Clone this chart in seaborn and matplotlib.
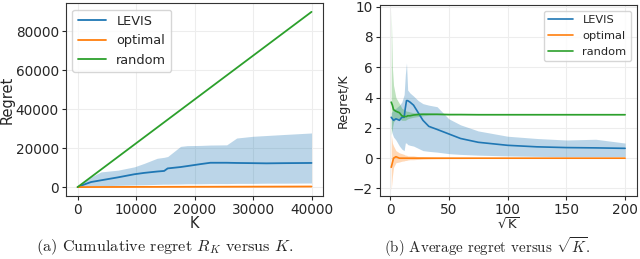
import numpy as np
import pandas as pd
import seaborn as sns
import matplotlib.pyplot as plt

# ---- (a) cumulative regret vs K ----
k_pts = [0, 1000, 2300, 4000, 6900, 9700, 11400, 13600, 14800, 15400, 17600,
         18750, 21000, 22700, 25500, 27200, 30000, 32300, 35200, 40000]
levis_cum = [0, 1200, 2600, 3500, 5000, 6600, 7300, 8000, 8300, 9600, 10300,
             10800, 11800, 12500, 12500, 12400, 12300, 12200, 12300, 12400]
levis_cum_hi = [0, 2500, 5200, 7800, 8700, 10400, 12200, 14800, 15300, 15700, 20900,
                21300, 21400, 21600, 21700, 25200, 26100, 26500, 27000, 27800]
levis_cum_lo = [0, 200, 400, 700, 900, 1100, 1200, 1400, 1500, 1500, 1600,
                1700, 1700, 1800, 1800, 1900, 1900, 2000, 2000, 2100]
optimal_cum = [0, 20, 40, 60, 80, 100, 110, 120, 130, 140, 150,
               160, 170, 180, 200, 210, 230, 240, 260, 300]
random_cum = [0, 2250, 5175, 9000, 15525, 21825, 25650, 30600, 33300, 34650, 39600,
              42190, 47250, 51075, 57375, 61200, 67500, 72675, 79200, 90000]

# ---- (b) average regret vs sqrt(K) ----
sqrt_k = [1, 2, 3, 5, 8, 10, 12, 13, 14, 15, 17, 20, 24, 28, 33, 40, 50, 60,
          75, 100, 125, 150, 175, 200]
levis_avg = [2.7, 2.6, 2.5, 2.6, 2.5, 2.7, 2.7, 3.3, 3.8, 3.8, 3.7, 3.5, 3.0, 2.5,
             2.1, 1.9, 1.6, 1.3, 1.05, 0.85, 0.75, 0.7, 0.68, 0.65]
levis_avg_hi = [3.0, 3.1, 3.2, 3.3, 3.5, 3.7, 4.2, 5.5, 6.3, 4.5, 4.3, 4.1, 3.8, 3.6,
                3.5, 3.4, 2.6, 2.2, 1.8, 1.45, 1.3, 1.2, 1.25, 1.0]
levis_avg_lo = [2.0, 1.6, 1.4, 1.2, 0.8, 0.6, 0.5, 1.0, 1.0, 0.9, 0.85, 0.8, 0.65, 0.5,
                0.45, 0.4, 0.3, 0.25, 0.2, 0.15, 0.12, 0.1, 0.1, 0.1]
optimal_avg = [-0.6, -0.3, 0.0, 0.1, 0.0, 0.0, 0.0, 0.0, 0.0, 0.0, 0.0, 0.0, 0.0, 0.0,
               0.0, 0.0, 0.0, 0.0, 0.0, 0.0, 0.0, 0.0, 0.0, 0.0]
optimal_avg_hi = [1.6, 1.0, 0.8, 0.5, 0.35, 0.3, 0.25, 0.2, 0.2, 0.15, 0.15, 0.15, 0.1, 0.1,
                  0.08, 0.06, 0.05, 0.04, 0.03, 0.03, 0.02, 0.02, 0.02, 0.02]
optimal_avg_lo = [-2.1, -1.2, -0.6, -0.3, -0.25, -0.2, -0.18, -0.15, -0.15, -0.12, -0.1, -0.1,
                  -0.08, -0.06, -0.05, -0.04, -0.03, -0.03, -0.02, -0.02, -0.02, -0.02, -0.02, -0.02]
random_avg = [3.7, 3.5, 3.2, 3.1, 3.0, 2.8, 2.75, 2.75, 2.75, 2.8, 2.8, 2.85, 2.88, 2.9,
              2.9, 2.9, 2.88, 2.88, 2.87, 2.87, 2.87, 2.87, 2.87, 2.87]
random_avg_hi = [9.8, 6.0, 4.8, 4.0, 3.6, 3.3, 3.2, 3.15, 3.1, 3.1, 3.05, 3.0, 3.0, 2.98,
                 2.96, 2.95, 2.92, 2.91, 2.9, 2.89, 2.89, 2.89, 2.89, 2.89]
random_avg_lo = [1.5, 2.0, 2.4, 2.6, 2.6, 2.5, 2.5, 2.5, 2.55, 2.6, 2.65, 2.7, 2.75, 2.8,
                 2.84, 2.85, 2.84, 2.85, 2.85, 2.85, 2.85, 2.85, 2.85, 2.85]

labels = ['LEVIS', 'optimal', 'random']

sns.set_style('whitegrid', {'axes.edgecolor': '0.2', 'grid.color': '0.93',
                            'xtick.bottom': True, 'ytick.left': True})
plt.rcParams['font.family'] = ['DejaVu Sans']
plt.rcParams['xtick.major.size'] = 3
plt.rcParams['ytick.major.size'] = 3
colors = sns.color_palette('tab10')[:3]

fig = plt.figure(figsize=(6.4, 2.59), dpi=100)
ax1 = fig.add_axes([0.103, 0.243, 0.402, 0.745])
ax2 = fig.add_axes([0.593, 0.243, 0.402, 0.737])

df_a = pd.DataFrame({'K': k_pts * 3,
                     'Regret': levis_cum + optimal_cum + random_cum,
                     'method': [l for l in labels for _ in k_pts]})
sns.lineplot(ax=ax1, data=df_a, x='K', y='Regret', hue='method', palette=colors, lw=1.3)
ax1.fill_between(k_pts, levis_cum_lo, levis_cum_hi, color=colors[0], alpha=0.3, lw=0)
ax1.fill_between(k_pts, np.array(optimal_cum) - 100, np.array(optimal_cum) + 100,
                 color=colors[1], alpha=0.3, lw=0)
ax1.set_xticks([0, 10000, 20000, 30000, 40000])
ax1.set_yticks([0, 20000, 40000, 60000, 80000])
ax1.tick_params(labelsize=9.8, pad=2)
ax1.set_xlabel('K', fontsize=10.5, labelpad=-1)
ax1.set_ylabel('Regret', fontsize=10.5, labelpad=1)
ax1.legend(loc='upper left', fontsize=9.3, handlelength=2.2)

df_b = pd.DataFrame({'sqrtK': sqrt_k * 3,
                     'avg': levis_avg + optimal_avg + random_avg,
                     'method': [l for l in labels for _ in sqrt_k]})
sns.lineplot(ax=ax2, data=df_b, x='sqrtK', y='avg', hue='method', palette=colors, lw=1.2)
ax2.fill_between(sqrt_k, levis_avg_lo, levis_avg_hi, color=colors[0], alpha=0.3, lw=0)
ax2.fill_between(sqrt_k, optimal_avg_lo, optimal_avg_hi, color=colors[1], alpha=0.3, lw=0)
ax2.fill_between(sqrt_k, random_avg_lo, random_avg_hi, color=colors[2], alpha=0.3, lw=0)
ax2.set_ylim(-2.5, 10.1)
ax2.set_xticks([0, 50, 100, 150, 200])
ax2.set_yticks([-2, 0, 2, 4, 6, 8, 10])
ax2.tick_params(labelsize=9.8, pad=2)
ax2.set_xlabel(r'$\sqrt{\mathsf{K}}$', fontsize=9.5, labelpad=-0.5)
ax2.set_ylabel('Regret/K', fontsize=9.2, labelpad=2)
ax2.legend(loc='upper right', fontsize=8.2, handlelength=2.2)

fig.text(0.258, 0.046, r'(a) Cumulative regret $R_K$ versus $K$.', ha='center',
         va='center', fontsize=11.7, family='cmr10', math_fontfamily='cm')
fig.text(0.762, 0.046, r'(b) Average regret versus $\sqrt{K}$.', ha='center',
         va='center', fontsize=10.8, family='cmr10', math_fontfamily='cm')

fig.savefig('out.png', dpi=100)
